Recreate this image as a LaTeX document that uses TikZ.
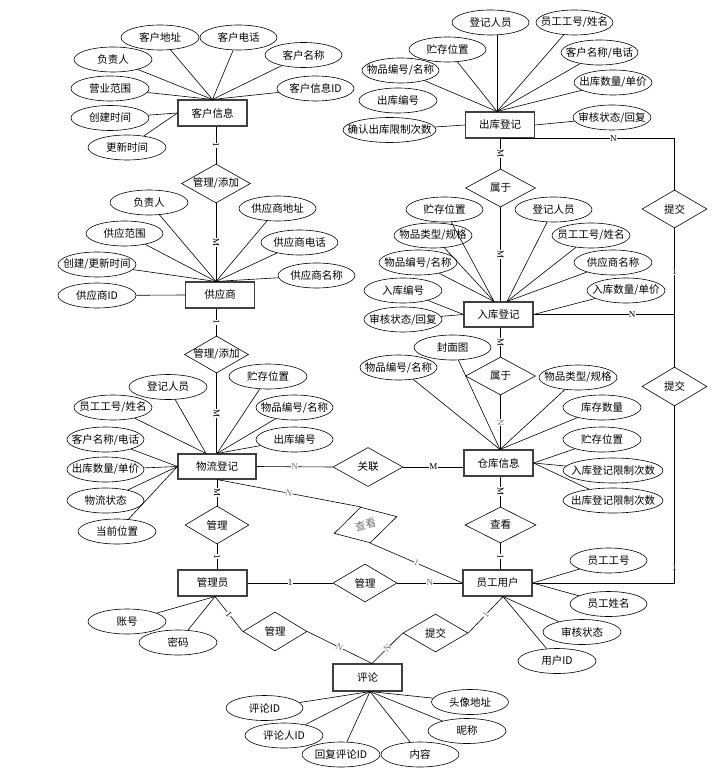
\documentclass[tikz,border=0pt]{standalone}
\usepackage{fontspec}
\newfontfamily\cjk{Noto Sans CJK SC}
\newfontfamily\labf{Liberation Serif}
\usetikzlibrary{shapes.geometric,calc}
\newcommand\mb[1]{\makebox[0pt]{#1}}
\newcommand\Att[5]{\node[attr,minimum width=#4pt] (#1) at (#2,#3) {\mb{#5}};}
\begin{document}
\begin{tikzpicture}[x=1pt,y=-1pt,
 every node/.style={font=\cjk\fontsize{10.5}{12}\selectfont},
 ent/.style={draw=black!75,line width=1.1pt,minimum width=69pt,minimum height=26pt,inner sep=0pt},
 attr/.style={ellipse,draw,line width=0.6pt,minimum height=25pt,inner sep=0pt},
 rel/.style={diamond,draw,line width=0.6pt,minimum width=66pt,minimum height=38pt,inner sep=0pt},
 card/.style={font=\labf\fontsize{9}{9}\selectfont,fill=white,inner sep=0.3pt},
 cardg/.style={card,text=black!55},
 ln/.style={line width=0.6pt}]
\useasboundingbox[fill=white] (0,0) rectangle (727,783);

% entities
\node[ent] (kh) at (212.5,113) {客户信息};
\node[ent] (gys) at (220,295) {供应商};
\node[ent,minimum width=78pt,minimum height=25pt] (wl) at (217,466.5) {物流登记};
\node[ent] (ck) at (500,125) {出库登记};
\node[ent,minimum height=25pt] (rk) at (498.5,314.5) {入库登记};
\node[ent] (cx) at (498.5,463) {仓库信息};
\node[ent] (gly) at (212.5,583) {管理员};
\node[ent] (yg) at (497.5,583) {员工用户};
\node[ent,minimum height=27pt] (pl) at (367.5,677.5) {评论};

% relations
\node[rel,minimum width=69pt,minimum height=39pt] (r1) at (216,183.5) {\mb{管理/添加}};
\node[rel,minimum width=64pt,minimum height=37pt] (r2) at (216.5,354.5) {\mb{管理/添加}};
\node[rel,minimum width=64pt] (r3) at (217,525) {\mb{管理}};
\node[rel,minimum width=70pt,minimum height=39pt] (gl) at (368,467) {\mb{关联}};
\node[rel,minimum width=65pt,minimum height=37pt,rotate=15,text=black!55] (cv) at (365.5,525) {\mb{查看}};
\node[rel,minimum width=64pt] (gl2) at (365,583) {\mb{管理}};
\node[rel,minimum width=70pt] (sy1) at (500.5,188) {\mb{属于}};
\node[rel,minimum width=70pt] (sy2) at (500.5,376) {\mb{属于}};
\node[rel,minimum width=71pt,minimum height=36pt] (ck2) at (500.5,525) {\mb{查看}};
\node[rel,minimum width=65pt] (tj1) at (674.5,209) {\mb{提交}};
\node[rel,minimum width=65pt,minimum height=39pt] (tj2) at (674.5,386.5) {\mb{提交}};
\node[rel,minimum width=64pt,minimum height=39pt] (gl3) at (275,631.5) {\mb{管理}};
\node[rel,minimum width=65pt] (tj3) at (435.5,633) {\mb{提交}};

% attributes of 客户信息
\Att{a11}{160}{37.5}{78}{客户地址}
\Att{a12}{238.5}{37.5}{77}{客户电话}
\Att{a13}{113}{59.5}{78}{负责人}
\Att{a14}{303.5}{55}{77}{客户名称}
\Att{a15}{110}{88.5}{78}{营业范围}
\Att{a16}{315.5}{88.5}{77}{客户信息ID}
\Att{a17}{110}{118}{78}{创建时间}
\Att{a18}{127}{147.5}{78}{更新时间}
% 供应商
\Att{a21}{149}{202.5}{78}{负责人}
\Att{a22}{277.5}{208.5}{77}{供应商地址}
\Att{a23}{124.5}{233.5}{77}{供应范围}
\Att{a24}{299.5}{242.5}{77}{供应商电话}
\Att{a25}{97}{264.5}{78}{创建/更新时间}
\Att{a26}{316.5}{275.5}{77}{供应商名称}
\Att{a27}{97}{295.5}{78}{供应商ID}
% 物流登记
\Att{a31}{168}{387}{78}{登记人员}
\Att{a32}{268}{376.5}{78}{贮存位置}
\Att{a33}{113}{407.5}{78}{员工工号/姓名}
\Att{a34}{294.5}{407.5}{77}{物品编号/名称}
\Att{a35}{105.5}{439.5}{77}{客户名称/电话}
\Att{a36}{294.5}{439.5}{77}{出库编号}
\Att{a37}{105.5}{469.5}{77}{出库数量/单价}
\Att{a38}{105.5}{500.5}{77}{物流状态}
\Att{a39}{117}{531.5}{78}{当前位置}
% 出库登记
\Att{b11}{490.5}{22.5}{77}{登记人员}
\Att{b12}{574.5}{22.5}{77}{员工工号/姓名}
\Att{b13}{447.5}{49.5}{77}{贮存位置}
\Att{b14}{599.5}{52.5}{77}{客户名称/电话}
\Att{b15}{400.5}{70.5}{77}{物品编号/名称}
\Att{b16}{613}{82.5}{78}{出库数量/单价}
\Att{b17}{398}{100.5}{78}{出库编号}
\Att{b18}{612}{117.5}{78}{审核状态/回复}
\Att{b19}{389.5}{130}{93}{确认出库限制次数}
% 入库登记
\Att{b21}{444.5}{209.5}{77}{贮存位置}
\Att{b22}{553.5}{209.5}{77}{登记人员}
\Att{b23}{433}{235.5}{78}{物品类型/规格}
\Att{b24}{591}{235.5}{78}{员工工号/姓名}
\Att{b25}{418}{262.5}{78}{物品编号/名称}
\Att{b26}{613}{262.5}{78}{供应商名称}
\Att{b27}{403}{290.5}{78}{入库编号}
\Att{b28}{626}{290.5}{78}{入库数量/单价}
\Att{b29}{403}{319.5}{78}{审核状态/回复}
% 仓库信息
\Att{b31}{452.5}{347.5}{77}{封面图}
\Att{b32}{398.5}{367.5}{77}{物品编号/名称}
\Att{b33}{578}{377.5}{78}{物品类型/规格}
\Att{b34}{602}{407.5}{78}{库存数量}
\Att{b35}{602}{439.5}{78}{贮存位置}
\Att{b36}{613}{470.5}{100}{入库登记限制次数}
\Att{b37}{613}{500.5}{100}{出库登记限制次数}
% 员工用户
\Att{c11}{608.5}{560.5}{77}{员工工号}
\Att{c12}{608.5}{604}{77}{员工姓名}
\Att{c13}{582}{632}{78}{审核状态}
\Att{c14}{557}{661}{78}{用户ID}
% 管理员
\Att{c21}{127}{621.5}{78}{账号}
\Att{c22}{178}{642.5}{78}{密码}
% 评论
\Att{c31}{264.5}{708}{77}{评论ID}
\Att{c32}{470}{702}{77}{头像地址}
\Att{c33}{284}{735.5}{78}{评论人ID}
\Att{c34}{467}{731}{78}{昵称}
\Att{c35}{341}{754.5}{78}{回复评论ID}
\Att{c36}{420}{754.5}{78}{内容}

% convergence points
\coordinate (khT) at (kh.north);
\coordinate (gyT) at ($(gys.north)+(-4,0)$);
\coordinate (wlTL) at ($(wl.north)+(-11,0)$);
\coordinate (ckT) at ($(ck.north)+(-3,0)$);
\coordinate (rkTL) at ($(rk.north)+(-4.5,0)$);
\coordinate (rkTR) at ($(rk.north)+(8.5,0)$);
\coordinate (cxT) at ($(cx.north)+(1.5,0)$);
\coordinate (ygB) at ($(yg.south)+(5.5,0)$);
\coordinate (glyB) at ($(gly.south)+(2.5,0)$);
\coordinate (plB) at ($(pl.south)+(2.5,0)$);
\coordinate (plT) at ($(pl.north)+(4.5,0)$);

% attribute lines
\foreach \a in {a11,a12,a13,a14,a15,a16} \draw[ln] (\a) -- (khT);
\foreach \a in {a17,a18} \draw[ln] (\a) -- (kh.west);
\foreach \a in {a21,a22,a23,a24,a25,a26} \draw[ln] (\a) -- (gyT);
\draw[ln] (a27) -- (gys.west);
\foreach \a in {a31,a33} \draw[ln] (\a) -- (wlTL);
\foreach \a in {a32,a34,a36} \draw[ln] (\a) -- (wl.north);
\foreach \a in {a35,a37,a38,a39} \draw[ln] (\a) -- (wl.west);
\draw[ln] (ckT) -- (ckT |- b11.south);
\foreach \a in {b12,b13,b14,b15,b16} \draw[ln] (\a) -- (ckT);
\draw[ln] (b19) -- (ck.west);
\draw[ln] (b18) -- (ck.east);
\foreach \a in {b21,b23,b25} \draw[ln] (\a) -- (rkTL);
\foreach \a in {b22,b24,b26} \draw[ln] (\a) -- (rkTR);
\foreach \a in {b27,b29} \draw[ln] (\a) -- (rk.west);
\draw[ln] (b28) -- (rk.east);
\foreach \a in {b31,b32,b33,b34} \draw[ln] (\a) -- (cxT);
\foreach \a in {b35,b36,b37} \draw[ln] (\a) -- (cx.east);
\foreach \a in {c11,c12} \draw[ln] (\a) -- (yg.east);
\foreach \a in {c13,c14} \draw[ln] (\a) -- (ygB);
\foreach \a in {c21,c22} \draw[ln] (\a) -- (glyB);
\foreach \a in {c31,c32,c33,c34,c35,c36} \draw[ln] (\a) -- (plB);

% relationship lines, left chain
\draw[ln] (r1.north |- kh.south) -- node[card,sloped]{1} (r1.north);
\draw[ln] (r1.south) -- node[card,sloped]{M} (r1.south |- gys.north);
\draw[ln] (r2.north |- gys.south) -- node[card,sloped]{1} (r2.north);
\draw[ln] (r2.south) -- node[card,sloped]{M} (r2.south |- wl.north);
\draw[ln] (r3.north |- wl.south) -- node[card,sloped]{M} (r3.north);
\draw[ln] (r3.south) -- node[card,sloped]{1} (r3.south |- gly.north);
% right chain
\draw[ln] (sy1.north |- ck.south) -- node[card,sloped]{M} (sy1.north);
\draw[ln] (sy1.south) -- node[card,sloped]{M} (sy1.south |- rk.north);
\draw[ln] (sy2.north |- rk.south) -- node[card,sloped]{M} (sy2.north);
\draw[ln] (sy2.south) -- node[cardg,sloped]{N} (sy2.south |- cx.north);
\draw[ln] (ck2.north |- cx.south) -- node[card,sloped]{M} (ck2.north);
\draw[ln] (ck2.south) -- node[card,sloped]{1} (ck2.south |- yg.north);
% horizontals and diagonals
\draw[ln] (wl.east) -- node[cardg]{N} (gl.west);
\draw[ln] (gl.east) -- node[card]{M} (gl.east -| cx.west);
\draw[ln] (gly.east) -- node[card]{1} (gl2.west);
\draw[ln] (gl2.east) -- node[cardg]{N} (yg.west);
\draw[ln] (wl.south) -- node[cardg,sloped]{N} (cv.north);
\draw[ln] (cv.south) -- node[cardg,sloped]{1} (yg.west);
\draw[ln] (glyB) -- node[card,sloped]{1} (gl3.west);
\draw[ln] (gl3.east) -- node[cardg,sloped]{N} (plT);
\draw[ln] (plT) -- node[cardg,sloped]{N} (tj3.west);
\draw[ln] (tj3.east) -- node[cardg,sloped]{1} (ygB);
% right-hand path
\coordinate (c1) at (tj1.north |- ck.south);
\coordinate (c2) at (tj1.south |- rk.east);
\coordinate (c3) at (tj2.south |- yg.east);
\draw[ln] (ck.south) -- node[card,pos=.65]{N} (c1) -- (tj1.north);
\draw[ln] (tj1.south) -- node[card]{1} (c2) -- (tj2.north);
\draw[ln] (rk.east) -- node[card,pos=.7]{N} (c2);
\draw[ln] (tj2.south) -- node[card,pos=.91]{1} (c3) -- (yg.east);
\end{tikzpicture}
\end{document}
